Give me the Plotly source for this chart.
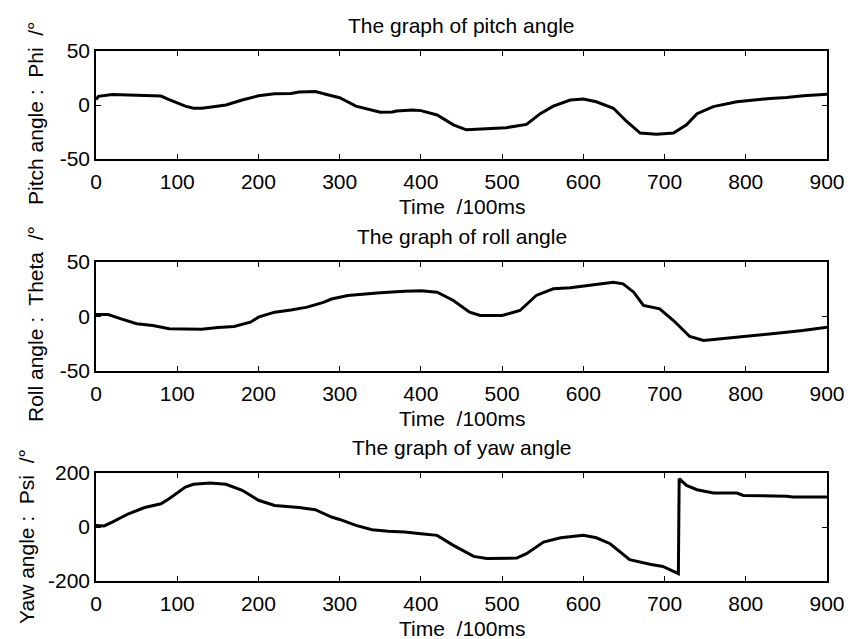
import plotly.graph_objects as go

W, H = 850, 639

# ---------------- data ----------------
pitch_t = [0, 3, 20, 50, 80, 90, 100, 110, 120, 130, 140, 160, 180, 200, 220, 240, 250, 270, 290, 300,
           320, 340, 350, 365, 370, 390, 400, 420, 440, 456, 477, 505, 530, 547, 563, 584, 600, 616, 637,
           653, 670, 690, 711, 727, 740, 760, 789, 809, 830, 850, 871, 900]
pitch_v = [5, 8, 9.8, 9.2, 8.3, 5, 2, -1, -3, -3, -2, 0, 4.6, 8.5, 10.4, 10.7, 12, 12.5, 8.6, 6.7,
           -1, -4.6, -6.7, -6.5, -5.5, -4.6, -5.2, -9.2, -18.4, -23, -22, -21, -18, -8, -1, 4.6, 5.5, 3, -3,
           -15, -26, -27, -26, -18.4, -8, -1.5, 3, 4.6, 6, 7, 8.6, 10]

roll_t = [0, 15, 30, 50, 70, 90, 130, 150, 170, 190, 200, 220, 240, 260, 280, 290, 310, 330, 350, 380,
          400, 420, 440, 460, 473, 500, 522, 542, 563, 584, 604, 625, 637, 649, 662, 674, 694, 711, 731,
          748, 768, 790, 809, 830, 850, 870, 891, 900]
roll_v = [1.8, 1.8, -2, -6.7, -8.3, -11.3, -11.6, -10, -9.2, -5.2, -0.6, 4, 6, 8.6, 13, 16, 19.3, 20.2, 21.7, 23.2,
          23.7, 22.3, 14.7, 4, 0.9, 0.9, 5.5, 19.3, 25.4, 26.3, 28.4, 30, 31.5, 30, 22.3, 10.1, 7, -3.7, -18.3,
          -22, -20.5, -19.5, -17.4, -16.2, -14.4, -12.8, -10.7, -9.8]

yaw_t = [0, 10, 20, 40, 60, 80, 90, 110, 120, 140, 160, 180, 200, 220, 250, 270, 290, 300, 320, 340,
         360, 380, 400, 420, 440, 465, 481, 518, 530, 551, 572, 600, 616, 633, 657, 682, 698, 717, 718,
         727, 740, 760, 789, 797, 850, 858, 900]
yaw_v = [6, 4, 18, 49, 72, 86, 105, 148, 158, 163, 158, 136, 99, 80, 72, 64, 37, 28, 6, -10,
         -16, -18.5, -25, -31, -68, -109, -117, -115, -99, -56, -40, -31, -40, -62, -121, -138, -146, -173, 179,
         154, 138, 126, 126, 117, 114, 111, 111]

x_tickvals = [0, 100, 200, 300, 400, 500, 600, 700, 800, 900]
x_ticktext = ["0", "100", "200", "300", "400", "500", "600", "700", "800", "900"]
y50_tickvals = [-50, 0, 50]
y50_ticktext = ["-50", "0", "50"]
y200_tickvals = [-200, 0, 200]
y200_ticktext = ["-200", "0", "200"]

titles = ["The graph of pitch angle", "The graph of roll angle", "The graph of yaw angle"]
ylabels = ["Pitch angle :  Phi  /°", "Roll angle :  Theta  /°", "Yaw angle :  Psi  /°"]
xlabel = "Time  /100ms"

# ---------------- layout geometry (pixels) ----------------
FONT = "Arial, Liberation Sans, sans-serif"
FS = 21
x0p, x1p = 96, 827
panels = [(51, 159), (262, 371), (473, 581)]  # top, bottom pixel of each plot box


def py(p):
    return 1 - p / H


def px(p):
    return p / W


fig = go.Figure()
series = [(pitch_t, pitch_v), (roll_t, roll_v), (yaw_t, yaw_v)]
yr = [(-50, 50, y50_tickvals, y50_ticktext), (-50, 50, y50_tickvals, y50_ticktext),
      (-200, 200, y200_tickvals, y200_ticktext)]

annotations = []
for i, ((t, v), (top, bot), (ymin, ymax, tv, tt)) in enumerate(zip(series, panels, yr)):
    k = "" if i == 0 else str(i + 1)
    fig.add_trace(go.Scatter(x=t, y=v, mode="lines", line=dict(color="black", width=3),
                             xaxis="x" + k, yaxis="y" + k, showlegend=False, hoverinfo="skip"))
    axcommon = dict(showline=True, linecolor="black", linewidth=1.5, mirror="allticks",
                    ticks="inside", ticklen=5, tickwidth=1, tickcolor="black",
                    showgrid=False, zeroline=False, automargin=False,
                    tickfont=dict(family=FONT, size=FS, color="black"))
    fig.update_layout(**{
        "xaxis" + k: dict(domain=[px(x0p), px(x1p)], range=[0, 900], anchor="y" + k,
                          tickvals=x_tickvals, ticktext=x_ticktext, ticklabelstandoff=3, **axcommon),
        "yaxis" + k: dict(domain=[py(bot), py(top)], range=[ymin, ymax], anchor="x" + k,
                          tickvals=tv, ticktext=tt, **axcommon),
    })
    # panel title
    annotations.append(dict(text=titles[i], x=px((x0p + x1p) / 2), y=py(top - 12),
                            xref="paper", yref="paper", xanchor="center", yanchor="bottom",
                            showarrow=False, font=dict(family=FONT, size=FS, color="black")))
    # x label
    annotations.append(dict(text=xlabel, x=px((x0p + x1p) / 2), y=py(bot + 61),
                            xref="paper", yref="paper", xanchor="center", yanchor="bottom",
                            showarrow=False, font=dict(family=FONT, size=FS, color="black")))

# y labels (rotated)
ylab_pos = [(35, 113), (35, 324), (26, 537)]
for i, (cx, cy) in enumerate(ylab_pos):
    annotations.append(dict(text=ylabels[i], x=px(cx), y=py(cy), xref="paper", yref="paper",
                            xanchor="center", yanchor="middle", textangle=-90, showarrow=False,
                            font=dict(family=FONT, size=FS, color="black")))

fig.update_layout(template="none", width=W, height=H, margin=dict(l=0, r=0, t=0, b=0),
                  paper_bgcolor="white", plot_bgcolor="white",
                  annotations=annotations, showlegend=False)

fig.write_html("out.html")
